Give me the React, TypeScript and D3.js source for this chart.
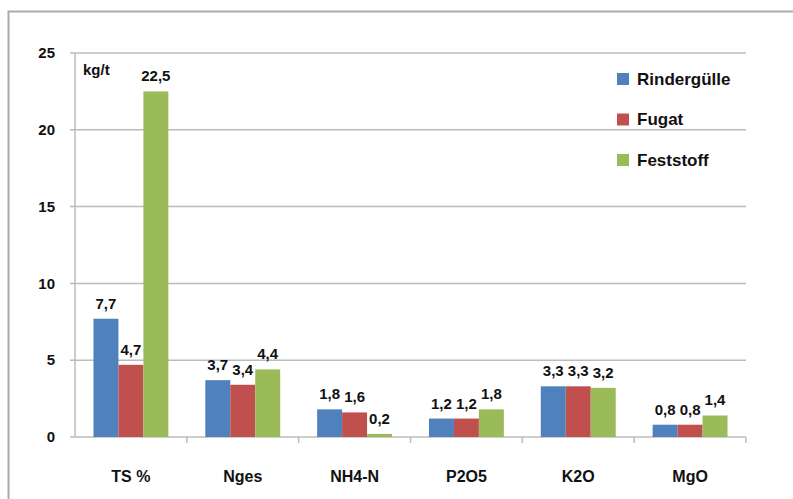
import React from "react";
import * as d3 from "d3";

const WIDTH = 793;
const HEIGHT = 499;
const MARGIN = { top: 53, right: 47, bottom: 62, left: 75 };

const categories = ["TS %", "Nges", "NH4-N", "P2O5", "K2O", "MgO"];
const seriesNames = ["Rindergülle", "Fugat", "Feststoff"];
const colors = ["#4F81BD", "#C0504D", "#9BBB59"];
const rindergulle = [7.7, 3.7, 1.8, 1.2, 3.3, 0.8];
const fugat = [4.7, 3.4, 1.6, 1.2, 3.3, 0.8];
const feststoff = [22.5, 4.4, 0.2, 1.8, 3.2, 1.4];
const yTicks = [0, 5, 10, 15, 20, 25];

const FONT = "'Liberation Sans', Arial, sans-serif";

export default function App() {
  const series = [rindergulle, fugat, feststoff];
  const boundsWidth = WIDTH - MARGIN.left - MARGIN.right;
  const boundsHeight = HEIGHT - MARGIN.top - MARGIN.bottom;

  const xScale = d3.scaleBand().domain(categories).range([0, boundsWidth]).paddingInner(0).paddingOuter(0);
  // bars of one group sit together, with wide gaps between the groups
  const inner = d3
    .scaleBand()
    .domain(seriesNames)
    .range([0, xScale.bandwidth()])
    .paddingInner(0)
    .paddingOuter(0.74);
  const yScale = d3.scaleLinear().domain([0, 25]).range([boundsHeight, 0]);

  const fmt = (v: number) => v.toFixed(1).replace(".", ",");

  return (
    <svg width={WIDTH} height={HEIGHT} style={{ position: "absolute", left: 0, top: 0 }}>
      <rect x={0} y={0} width={WIDTH} height={HEIGHT} fill="#fff" />
      <rect x={8.5} y={11.5} width={WIDTH + 10} height={HEIGHT + 10} fill="none" stroke="#a7abb0" strokeWidth={2} />
      <g transform={`translate(${MARGIN.left},${MARGIN.top})`} fontFamily={FONT} fontWeight="bold">
        {yTicks.map((t) => (
          <g key={t}>
            <line x1={-5} x2={boundsWidth} y1={yScale(t)} y2={yScale(t)} stroke="#bcbcbc" strokeWidth={1.5} />
            <text x={-20} y={yScale(t)} dy="0.35em" textAnchor="end" fontSize={15} fill="#111">
              {t}
            </text>
          </g>
        ))}
        <line x1={0} x2={0} y1={0} y2={boundsHeight} stroke="#bcbcbc" strokeWidth={1.5} />
        {categories.map((c, i) => (
          <line
            key={"tk" + i}
            x1={(xScale(c) ?? 0) + xScale.bandwidth()}
            x2={(xScale(c) ?? 0) + xScale.bandwidth()}
            y1={boundsHeight}
            y2={boundsHeight + 6}
            stroke="#bcbcbc"
            strokeWidth={1.5}
          />
        ))}
        {categories.map((c, i) => (
          <g key={c} transform={`translate(${xScale(c)},0)`}>
            {series.map((s, j) => {
              const x = inner(seriesNames[j]) ?? 0;
              const y = yScale(s[i]);
              return (
                <g key={j}>
                  <rect x={x} y={y} width={inner.bandwidth()} height={boundsHeight - y} fill={colors[j]} />
                  <text
                    x={x + inner.bandwidth() / 2}
                    y={y - 10}
                    textAnchor="middle"
                    fontSize={15}
                    fill="#111"
                  >
                    {fmt(s[i])}
                  </text>
                </g>
              );
            })}
            <text x={xScale.bandwidth() / 2} y={boundsHeight + 45} textAnchor="middle" fontSize={16} fill="#111">
              {c}
            </text>
          </g>
        ))}
        <text x={8} y={22} fontSize={15} fill="#111">
          kg/t
        </text>
      </g>
      <g fontFamily={FONT} fontWeight="bold">
        {seriesNames.map((n, j) => (
          <g key={n} transform={`translate(617,${79 + j * 40.5})`}>
            <rect x={0} y={-6} width={12} height={12} fill={colors[j]} />
            <text x={20} y={0} dy="0.35em" fontSize={17} fill="#111">
              {n}
            </text>
          </g>
        ))}
      </g>
    </svg>
  );
}
